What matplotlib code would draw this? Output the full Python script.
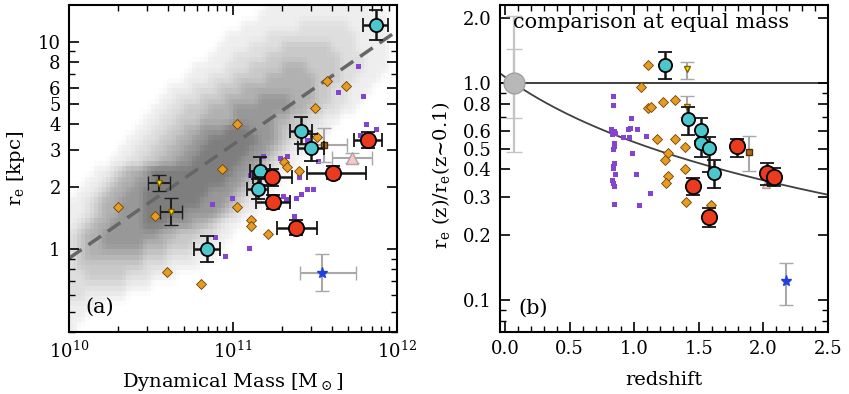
import numpy as np
import matplotlib
matplotlib.use('Agg')
import matplotlib.pyplot as plt
from matplotlib.colors import LinearSegmentedColormap
from matplotlib.ticker import FixedLocator, FixedFormatter, NullFormatter, MultipleLocator, FormatStrFormatter

plt.rcParams['font.family'] = ['DejaVu Serif']
plt.rcParams['mathtext.fontset'] = 'dejavuserif'

# ---- panel (a): local comparison sample, gray density levels (0 = empty ... 6 = densest)
# columns: log M from 10.0 to 12.0 in 0.05 dex, rows: log re from 1.2 down to -0.4 in 0.05 dex
sdss_rows = [
    "0000000000 0000000000 0000111111 1111111000",
    "0000000000 0000000000 0001111111 1111111110",
    "0000000000 0000000000 0111111122 2222111110",
    "0000000000 0000000001 1111222222 2222211110",
    "0000000000 0000000011 1122223333 3322211110",
    "0000000000 0000000111 2222333333 3332221110",
    "0000000000 0000011112 2233334443 3332221110",
    "0000000000 0000111222 3333444444 3332211100",
    "0000000000 0011122233 3444444444 3322111000",
    "0000000000 0112223334 4445555444 3322110000",
    "0000000000 1122333444 5555555443 3221100000",
    "0000000001 1223334444 5555544332 2110000000",
    "0000000011 2233445556 6655543322 1100000000",
    "0000000112 2334455666 6665543221 1000000000",
    "0000001122 3344556666 6655432110 0000000000",
    "0000011223 3445566666 6554321100 0000000000",
    "0001123445 6666666666 5543211000 0000000000",
    "0011234455 6666666665 5432110000 0000000000",
    "0112344556 6666666555 4321100000 0000000000",
    "1123445556 6666665554 3211000000 0000000000",
    "1123445556 6666555543 2110000000 0000000000",
    "1234455556 6655544321 1000000000 0000000000",
    "2344555555 5443332211 0000000000 0000000000",
    "2344555554 4433322110 0000000000 0000000000",
    "2344444443 3322211100 0000000000 0000000000",
    "2333333332 2211110000 0000000000 0000000000",
    "2233333222 1110000000 0000000000 0000000000",
    "2222222111 0000000000 0000000000 0000000000",
    "2211111000 0000000000 0000000000 0000000000",
    "1111000000 0000000000 0000000000 0000000000",
    "1100000000 0000000000 0000000000 0000000000",
    "1000000000 0000000000 0000000000 0000000000",
]
gray_levels = ['#ffffff', '#eeeeee', '#dedede', '#c9c9c9', '#b1b1b1', '#989898', '#7e7e7e']

# local size-mass relation (dashed)
rel_mass = [1e10, 1e12]
rel_re = [0.906, 11.25]

# cyan circles (log M, re [kpc], errors in dex)
cyan_logm = [11.870, 11.416, 11.477, 11.165, 11.151, 10.843]
cyan_re = [12.0, 3.73, 3.09, 2.39, 1.95, 1.00]
cyan_xerr = [0.076, 0.067, 0.080, 0.060, 0.065, 0.079]
cyan_yerr = [0.072, 0.067, 0.067, 0.067, 0.050, 0.063]

# red circles
red_logm = [11.823, 11.612, 11.240, 11.242, 11.382]
red_re = [3.36, 2.34, 2.22, 1.69, 1.27]
red_xlo = [0.085, 0.159, 0.120, 0.104, 0.114]
red_xhi = [0.085, 0.201, 0.120, 0.104, 0.128]
red_yerr = [0.040, 0.030, 0.040, 0.035, 0.035]

# orange diamonds
orange_logm = [11.571, 11.691, 11.502, 11.023, 11.514, 11.313, 11.329, 10.931, 11.402,
               10.301, 10.522, 11.023, 11.112, 11.112, 11.212, 10.599, 10.803]
orange_re = [6.47, 6.14, 4.78, 4.00, 3.46, 2.64, 2.50, 2.44, 2.39,
             1.59, 1.44, 1.59, 1.38, 1.29, 1.19, 0.775, 0.678]

# purple squares
purple_logm = [11.762, 11.642, 11.793, 11.814, 11.874, 11.774, 11.453, 11.518, 11.285,
               11.329, 11.181, 11.402, 11.104, 11.305, 11.326, 11.382, 11.413, 11.453,
               11.486, 10.996, 10.870, 11.374, 10.890, 11.099, 10.949]
purple_re = [7.61, 5.72, 5.49, 4.00, 3.80, 3.55, 3.36, 2.67, 2.74,
             2.82, 2.81, 2.22, 2.28, 1.81, 1.74, 1.77, 1.85, 1.95,
             1.95, 1.77, 1.65, 1.45, 1.15, 1.01, 0.932]

# yellow triangles (black error bars)
yellow_logm = [10.551, 10.624]
yellow_re = [2.09, 1.52]
yellow_xerr = [0.067, 0.067]
yellow_yerr = [0.039, 0.063]

# single objects with gray error bars
brown_logm, brown_re, brown_x, brown_y = 11.555, 3.18, (0.165, 0.140), 0.082
pink_logm, pink_re, pink_x, pink_y = 11.724, 2.74, (0.122, 0.122), 0.024
star_logm, star_re, star_x, star_y = 11.541, 0.772, (0.132, 0.211), 0.089

# ---- panel (b): re(z)/re(z~0.1) vs redshift
cyan_z = [1.238, 1.418, 1.520, 1.520, 1.582, 1.615]
cyan_ratio = [1.218, 0.684, 0.610, 0.529, 0.505, 0.387]
cyan_rhi = [1.40, 0.781, 0.695, 0.600, 0.568, 0.443]
cyan_rlo = [1.046, 0.578, 0.540, 0.455, 0.391, 0.330]

red_z = [1.795, 1.454, 1.582, 2.026, 2.085]
red_ratio = [0.514, 0.336, 0.240, 0.387, 0.371]
red_rhi = [0.554, 0.365, 0.265, 0.428, 0.407]
red_rlo = [0.459, 0.305, 0.216, 0.340, 0.334]

orange_z = [1.110, 1.052, 1.110, 1.128, 1.225, 1.313, 1.179, 1.313, 1.392,
            1.264, 1.238, 1.392, 1.262, 1.249, 1.402, 1.595]
orange_ratio = [1.218, 0.960, 0.768, 0.781, 0.824, 0.839, 0.554, 0.554, 0.507,
                0.479, 0.443, 0.403, 0.374, 0.348, 0.283, 0.275]

purple_z = [0.833, 0.833, 0.975, 0.821, 0.841, 0.854, 0.828, 0.915, 0.956, 0.948,
            0.967, 1.021, 1.090, 0.846, 0.846, 0.833, 0.982, 0.846, 0.838, 0.833,
            0.854, 1.013, 0.828, 0.833, 0.841, 1.121, 0.841, 1.038]
purple_ratio = [0.876, 0.796, 0.691, 0.614, 0.605, 0.593, 0.583, 0.564, 0.564, 0.614,
                0.621, 0.614, 0.574, 0.530, 0.511, 0.497, 0.479, 0.428, 0.416, 0.406,
                0.381, 0.382, 0.358, 0.346, 0.334, 0.311, 0.277, 0.275]

yellow_z = [1.41, 1.41]
yellow_ratio = [1.163, 0.781]
yellow_rhi = [1.26, 0.876]
yellow_rlo = [1.046, 0.70]

brown_z, brown_ratio, brown_rr = 1.89, 0.484, (0.394, 0.574)
pink_z, pink_ratio = 2.02, 0.342
star_z, star_ratio, star_rr = 2.175, 0.1215, (0.0948, 0.148)

local_z, local_ratio = 0.072, 1.0
local_inner = (0.69, 1.44)
local_outer = (0.48, 2.06)

# size evolution fit
fit_alpha = 1.0
fit_zref = 0.07


def dex(v, lo, hi):
    v = np.asarray(v, float)
    return [v - v / 10 ** np.asarray(lo), v * 10 ** np.asarray(hi) - v]


def rng(v, lo, hi):
    v = np.asarray(v, float)
    return [v - np.asarray(lo), np.asarray(hi) - v]


fig = plt.figure(figsize=(8.49, 3.94), dpi=100)
axL = fig.add_axes([0.0813, 0.1574, 0.3863, 0.8299])
axR = fig.add_axes([0.5889, 0.1574, 0.3863, 0.8299])

cyan_c = '#4cc8cc'
red_c = '#ec3a1e'
orange_c = '#e89a22'
purple_c = '#8444d2'
errgray = '#a8a8a8'

# ---------- left panel
grid = np.array([[int(c) for c in r.replace(' ', '')] for r in sdss_rows], float)
ny, nx = grid.shape
# resample the level map onto a grid twice as fine (linear between cell centres)
xc = np.arange(nx) + 0.5
yc = np.arange(ny) + 0.5
xf = np.arange(2 * nx) / 2 + 0.25
yf = np.arange(2 * ny) / 2 + 0.25
tmp = np.array([np.interp(xf, xc, row) for row in grid])
fine = np.array([np.interp(yf, yc, col) for col in tmp.T]).T
xe = 10 ** (10.0 + 0.025 * np.arange(2 * nx + 1))
ye = 10 ** (1.2 - 0.025 * np.arange(2 * ny + 1))
gcmap = LinearSegmentedColormap.from_list('lev', gray_levels)
axL.pcolormesh(xe, ye, fine, cmap=gcmap, vmin=0, vmax=6,
               shading='flat', antialiased=False, edgecolors='none', linewidth=0, zorder=0)

axL.plot(rel_mass, rel_re, color='#666666', lw=2.5, ls=(0, (4.4, 2.4)), zorder=1)

axL.plot(10 ** np.array(purple_logm), purple_re, 's', ms=3.6, color=purple_c, mew=0, zorder=2)
axL.plot(10 ** np.array(orange_logm), orange_re, 'D', ms=5, mfc=orange_c, mec='#6a4400', mew=0.6, zorder=2)

m = 10 ** brown_logm
axL.errorbar(m, brown_re, xerr=dex([m], brown_x[0], brown_x[1]), yerr=dex([brown_re], brown_y, brown_y),
             fmt='s', ms=5, mfc='#b06a1e', mec='#503000', ecolor=errgray, elinewidth=1.5, capsize=5, zorder=3)
m = 10 ** pink_logm
axL.errorbar(m, pink_re, xerr=dex([m], pink_x[0], pink_x[1]), yerr=dex([pink_re], pink_y, pink_y),
             fmt='^', ms=9, mfc='#f6c8cc', mec='#b0a0a0', ecolor=errgray, elinewidth=1.5, capsize=5, zorder=3)
m = 10 ** star_logm
axL.errorbar(m, star_re, xerr=dex([m], star_x[0], star_x[1]), yerr=dex([star_re], star_y, star_y),
             fmt='*', ms=8, mfc='#2040e0', mec='#2040e0', ecolor=errgray, elinewidth=1.5, capsize=5, zorder=3)

m = 10 ** np.array(yellow_logm)
axL.errorbar(m, yellow_re, xerr=dex(m, yellow_xerr, yellow_xerr), yerr=dex(yellow_re, yellow_yerr, yellow_yerr),
             fmt='v', ms=5, mfc='#ffe000', mec='#806000', ecolor='#202020', elinewidth=1.5, capsize=5, zorder=3)

m = 10 ** np.array(cyan_logm)
axL.errorbar(m, cyan_re, xerr=dex(m, cyan_xerr, cyan_xerr), yerr=dex(cyan_re, cyan_yerr, cyan_yerr),
             fmt='o', ms=9.5, mfc=cyan_c, mec='k', mew=1.3, ecolor='#151515', elinewidth=1.8,
             capsize=5, capthick=1.8, zorder=4)
m = 10 ** np.array(red_logm)
axL.errorbar(m, red_re, xerr=dex(m, red_xlo, red_xhi), yerr=dex(red_re, red_yerr, red_yerr),
             fmt='o', ms=11, mfc=red_c, mec='k', mew=1.3, ecolor='#151515', elinewidth=1.8,
             capsize=5, capthick=1.8, zorder=5)

axL.set_xscale('log')
axL.set_yscale('log')
axL.set_xlim(1e10, 1e12)
axL.set_ylim(0.40, 15.0)
axL.yaxis.set_major_locator(FixedLocator([1, 2, 3, 4, 5, 6, 8, 10]))
axL.yaxis.set_major_formatter(FixedFormatter(['1', '2', '3', '4', '5', '6', '8', '10']))
axL.yaxis.set_minor_locator(FixedLocator([0.4, 0.5, 0.6, 0.7, 0.8, 0.9, 7, 9]))
axL.yaxis.set_minor_formatter(NullFormatter())
axL.set_xlabel('Dynamical Mass [M$_\\odot$]', fontsize=14)
axL.set_ylabel('r$_\\mathrm{e}$ [kpc]', fontsize=14)
axL.xaxis.set_label_coords(0.5, -0.12)
axL.yaxis.set_label_coords(-0.128, 0.5)
axL.text(0.095, 0.075, '(a)', transform=axL.transAxes, fontsize=15, ha='center', va='center')

# ---------- right panel
zz = np.linspace(-0.04, 2.5, 200)
axR.axhline(1.0, color='#303030', lw=1.3, zorder=1)
axR.plot(zz, ((1 + zz) / (1 + fit_zref)) ** (-fit_alpha), color='#404040', lw=1.3, zorder=1)

axR.errorbar(local_z, local_ratio, yerr=rng([local_ratio], local_outer[0], local_outer[1]),
             fmt='none', ecolor='#c4c4c4', elinewidth=1.6, capsize=6, zorder=2)
axR.errorbar(local_z, local_ratio, yerr=rng([local_ratio], local_inner[0], local_inner[1]),
             fmt='o', ms=15, mfc='#b8b8b8', mec='#a0a0a0', ecolor='#c4c4c4', elinewidth=1.6, capsize=6, zorder=2)

axR.plot(purple_z, purple_ratio, 's', ms=3.6, color=purple_c, mew=0, zorder=2)
axR.plot(orange_z, orange_ratio, 'D', ms=5, mfc=orange_c, mec='#6a4400', mew=0.6, zorder=2)

axR.errorbar(yellow_z, yellow_ratio, yerr=rng(yellow_ratio, yellow_rlo, yellow_rhi),
             fmt='v', ms=5, mfc='#ffe000', mec='#806000', ecolor=errgray, elinewidth=1.5, capsize=5, zorder=3)
axR.errorbar(brown_z, brown_ratio, yerr=rng([brown_ratio], brown_rr[0], brown_rr[1]),
             fmt='s', ms=5, mfc='#b06a1e', mec='#503000', ecolor=errgray, elinewidth=1.5, capsize=5, zorder=3)
axR.plot(pink_z, pink_ratio, '^', ms=6, mfc='#f6c8cc', mec='#b0a0a0', zorder=3)
axR.errorbar(star_z, star_ratio, yerr=rng([star_ratio], star_rr[0], star_rr[1]),
             fmt='*', ms=8, mfc='#2040e0', mec='#2040e0', ecolor=errgray, elinewidth=1.5, capsize=5, zorder=3)

axR.errorbar(cyan_z, cyan_ratio, yerr=rng(cyan_ratio, cyan_rlo, cyan_rhi),
             fmt='o', ms=9.5, mfc=cyan_c, mec='k', mew=1.3, ecolor='#151515', elinewidth=1.8,
             capsize=5, capthick=1.8, zorder=4)
axR.errorbar(red_z, red_ratio, yerr=rng(red_ratio, red_rlo, red_rhi),
             fmt='o', ms=11, mfc=red_c, mec='k', mew=1.3, ecolor='#151515', elinewidth=1.8,
             capsize=5, capthick=1.8, zorder=5)

axR.set_yscale('log')
axR.set_xlim(-0.04, 2.5)
axR.set_ylim(0.0709, 2.305)
axR.xaxis.set_major_locator(MultipleLocator(0.5))
axR.xaxis.set_minor_locator(MultipleLocator(0.1))
axR.xaxis.set_major_formatter(FormatStrFormatter('%.1f'))
rticks = [0.1, 0.2, 0.3, 0.4, 0.5, 0.6, 0.8, 1.0, 2.0]
axR.yaxis.set_major_locator(FixedLocator(rticks))
axR.yaxis.set_major_formatter(FixedFormatter(['%.1f' % t for t in rticks]))
axR.yaxis.set_minor_locator(FixedLocator([0.07, 0.08, 0.09, 0.7, 0.9]))
axR.yaxis.set_minor_formatter(NullFormatter())
axR.set_xlabel('redshift', fontsize=14)
axR.set_ylabel('r$_\\mathrm{e}$ (z)/r$_\\mathrm{e}$(z~0.1)', fontsize=14)
axR.xaxis.set_label_coords(0.5, -0.12)
axR.yaxis.set_label_coords(-0.146, 0.48)
axR.text(0.04, 0.945, 'comparison at equal mass', transform=axR.transAxes, fontsize=15, ha='left', va='center')
axR.text(0.10, 0.073, '(b)', transform=axR.transAxes, fontsize=15, ha='center', va='center')

for ax in (axL, axR):
    ax.tick_params(which='both', direction='in', top=True, right=True, labelsize=13)
    ax.tick_params(which='major', length=7, width=1.2, pad=6)
    ax.tick_params(which='minor', length=4, width=1.0)
    for s in ax.spines.values():
        s.set_linewidth(1.5)

fig.savefig('out.png', dpi=100, facecolor='white')
